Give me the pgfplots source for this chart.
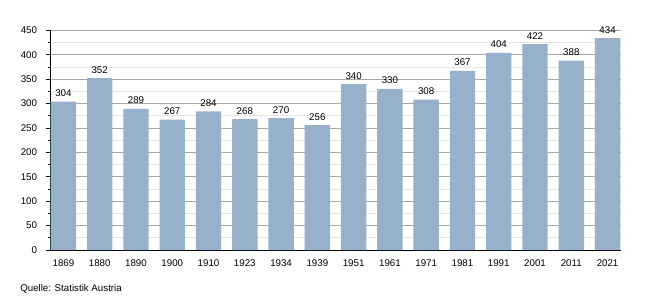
\documentclass[border=0pt]{standalone}
\usepackage{pgfplots}
\pgfplotsset{compat=1.18}
\usepackage{fontspec}
\setmainfont{Liberation Sans}
\definecolor{barcol}{RGB}{151,177,203}
\definecolor{majgrid}{RGB}{166,166,166}
\definecolor{mingrid}{RGB}{228,228,228}
\begin{document}
\begin{tikzpicture}
\useasboundingbox (0,0) rectangle (487.5pt,225pt);
\begin{axis}[
  at={(37.5pt,37.5pt)}, anchor=south west,
  scale only axis,
  width=428.25pt, height=164.7pt,
  xmin=-0.37, xmax=15.37,
  ymin=0, ymax=450,
  ytick={0,50,...,450},
  minor ytick={25,75,...,425},
  xtick={0,...,15},
  xticklabels={1869,1880,1890,1900,1910,1923,1934,1939,1951,1961,1971,1981,1991,2001,2011,2021},
  axis x line*=bottom, axis y line*=left,
  axis line style={black, line width=0.65pt, -},
  ymajorgrids, yminorgrids,
  major grid style={majgrid, line width=0.7pt},
  minor grid style={mingrid, line width=0.7pt},
  tick align=outside,
  major tick length=3pt, minor tick length=1.75pt,
  ytick style={black, line width=0.65pt},
  minor tick style={black, line width=0.65pt},
  xtick style={draw=none},
  tick label style={font=\fontsize{7.3}{8.5}\selectfont},
  /pgf/number format/assume math mode=true,
  xticklabel style={inner sep=0pt, yshift=-3.75pt},
  yticklabel style={inner sep=0pt, xshift=-6.5pt},
  ybar, bar width=0.7,
  nodes near coords,
  every node near coord/.append style={font=\fontsize{7.3}{8.5}\selectfont, inner sep=0pt, yshift=3.5pt, black},
  clip=false,
]
\addplot[fill=barcol, draw=none] coordinates {
(0,304) (1,352) (2,289) (3,267) (4,284) (5,268) (6,270) (7,256)
(8,340) (9,330) (10,308) (11,367) (12,404) (13,422) (14,388) (15,434)};
\end{axis}
\node[anchor=base west, inner sep=0pt, font=\fontsize{7.3}{8.5}\selectfont] at (15pt,6.2pt) {Quelle: Statistik Austria};
\end{tikzpicture}
\end{document}
